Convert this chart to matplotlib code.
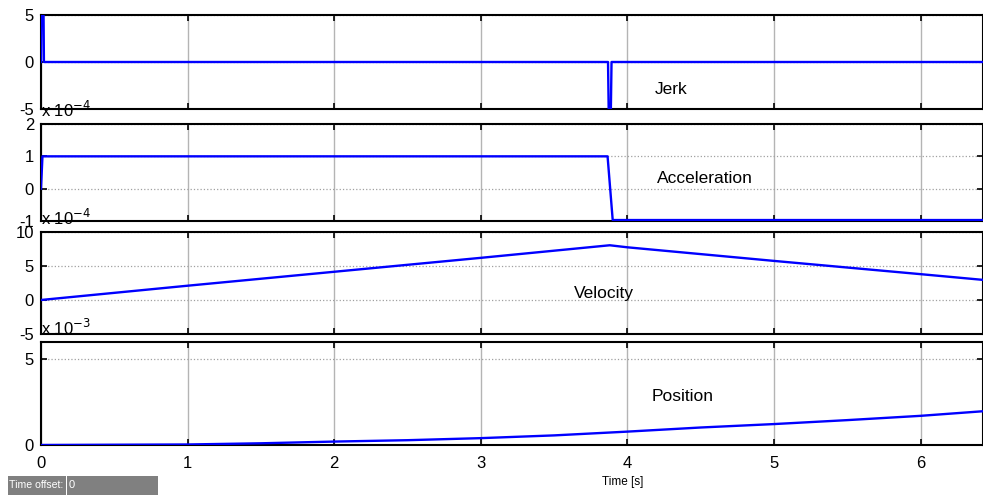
import matplotlib
matplotlib.use("Agg")
from matplotlib import pyplot as plt
from matplotlib.patches import Rectangle
from matplotlib.ticker import FixedLocator

plt.rcParams["font.family"] = ["Liberation Sans", "DejaVu Sans"]

# Signals (time in s, values in displayed units)
jerk_t = [0.0, 0.005, 0.015, 0.02, 3.868, 3.877, 3.883, 3.892, 6.43]
jerk_v = [0.0, 10.0, 10.0, 0.0, 0.0, -10.0, -10.0, 0.0, 0.0]  # x 1e-4

acc_t = [0.0, 0.01, 3.865, 3.90, 6.43]
acc_v = [0.0, 1.0, 1.0, -0.97, -0.97]  # x 1e-4

vel_t = [0.0, 1.0, 2.0, 3.0, 3.88, 4.0, 5.0, 6.0, 6.43]
vel_v = [0.0, 2.1, 4.15, 6.2, 8.05, 7.75, 5.75, 3.8, 2.95]  # x 1e-4

pos_t = [0.0, 1.0, 1.5, 2.0, 2.5, 3.0, 3.5, 4.0, 4.5, 5.0, 5.5, 6.0, 6.43]
pos_v = [0.0, 0.03, 0.1, 0.2, 0.28, 0.4, 0.56, 0.78, 1.02, 1.22, 1.45, 1.7, 1.97]  # x 1e-3

# One entry per panel: data, y range, y ticks, caption, caption position, exponent
panels = [
    (jerk_t, jerk_v, (-5, 5), [-5, 0, 5], "Jerk", (4.30, -2.9), None),
    (acc_t, acc_v, (-1, 2), [-1, 0, 1, 2], "Acceleration", (4.53, 0.31), "-4"),
    (vel_t, vel_v, (-5, 10), [-5, 0, 5, 10], "Velocity", (3.84, 0.9), "-4"),
    (pos_t, pos_v, (0, 6), [0, 5], "Position", (4.38, 2.8), "-3"),
]

# Axes boxes in figure fractions [left, bottom, width, height]
boxes = [
    [0.0417, 0.7798, 0.9583, 0.1899],
    [0.0417, 0.5535, 0.9583, 0.1960],
    [0.0417, 0.3253, 0.9583, 0.2060],
    [0.0417, 0.1010, 0.9583, 0.2080],
]

x_ticks = [0, 1, 2, 3, 4, 5, 6]

fig = plt.figure(figsize=(9.83, 4.95), dpi=100)

for i, (t, v, ylim, yticks, name, (tx, ty), expo) in enumerate(panels):
    ax = fig.add_axes(boxes[i])
    ax.plot(t, v, color="#0000ff", lw=1.7, zorder=3)
    ax.set_xlim(0, 6.426)
    ax.set_ylim(*ylim)
    ax.xaxis.set_major_locator(FixedLocator(x_ticks))
    ax.yaxis.set_major_locator(FixedLocator(yticks))
    ax.set_yticklabels([str(y) for y in yticks])

    # Vertical grid solid, horizontal grid dotted
    ax.grid(axis="x", color="#b4b4b4", lw=1.0, linestyle="-")
    ax.grid(axis="y", color="#a0a0a0", lw=0.9, linestyle=":")
    ax.set_axisbelow(True)

    ax.tick_params(direction="in", length=4, width=1.2, top=True, right=True,
                   labelsize=12, pad=5, colors="black")
    if i < 3:
        ax.tick_params(labelbottom=False)
    else:
        ax.tick_params(axis="x", pad=8)
    for sp in ax.spines.values():
        sp.set_linewidth(1.5)

    ax.text(tx, ty, name, fontsize=12.5, ha="center", va="center", zorder=4)

    if expo is not None:
        ax.annotate(r"x 10$^{%s}$" % expo, xy=(0, 1), xycoords="axes fraction",
                    xytext=(0, 3), textcoords="offset points",
                    ha="left", va="bottom", fontsize=12, annotation_clip=False)

narrow = ["Liberation Sans Narrow", "Liberation Sans", "DejaVu Sans"]

# Axis label under the bottom panel
fig.text(623 / 983, 1 - 482 / 495, "Time [s]", fontsize=8.5, ha="center", va="center",
         family=narrow)

# Time offset field
fig.patches.append(Rectangle((8 / 983, 0), 58 / 983, 19 / 495, transform=fig.transFigure,
                             facecolor="#808080", edgecolor="none"))
fig.patches.append(Rectangle((67 / 983, 0), 91 / 983, 19 / 495, transform=fig.transFigure,
                             facecolor="#808080", edgecolor="none"))
fig.text(9 / 983, 9.5 / 495, "Time offset:", color="white", fontsize=7.6, va="center",
         family=narrow)
fig.text(69 / 983, 9.5 / 495, "0", color="white", fontsize=8, va="center",
         family=narrow)

plt.savefig("out.png", dpi=100, facecolor="white")
